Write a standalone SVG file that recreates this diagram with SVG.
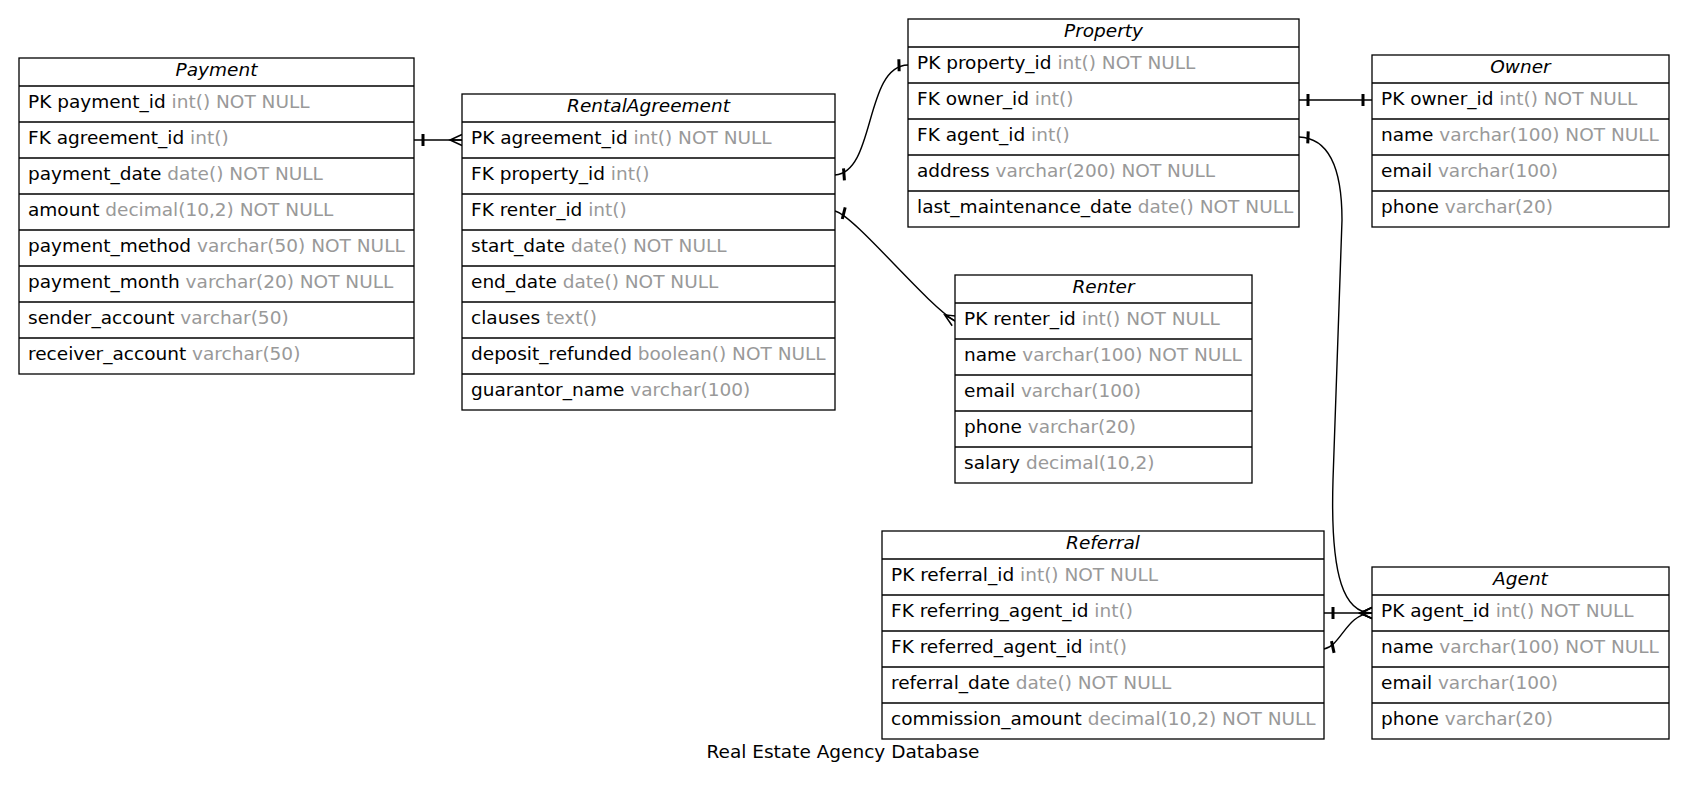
<svg xmlns="http://www.w3.org/2000/svg" width="1688" height="789" viewBox="0 0 1688 789">
  <style>
    text { font-family: "DejaVu Sans", "Liberation Sans", sans-serif; font-size: 18.5px; fill: #000; }
    .hdr { font-style: italic; text-anchor: middle; }
    .t { fill: #999999; }
    .box { fill: #fff; stroke: #000; stroke-width: 1.3; }
    .sep { stroke: #000; stroke-width: 1.3; }
    .edge { fill: none; stroke: #000; stroke-width: 1.4; }
  </style>
  <defs>
    <!-- one-side bar, sits ~9px away from the table edge -->
    <marker id="tee" markerUnits="userSpaceOnUse" orient="auto-start-reverse" markerWidth="1" markerHeight="1" overflow="visible">
      <rect x="-10.5" y="-6" width="3" height="12" fill="#000"/>
    </marker>
    <!-- many-side crow's foot, prongs touching the table edge -->
    <marker id="crow" markerUnits="userSpaceOnUse" orient="auto" markerWidth="1" markerHeight="1" overflow="visible">
      <path d="M0,-5.5 L-12,0 L0,5.5 M-12,0 L0,0" fill="none" stroke="#000" stroke-width="1.5"/>
    </marker>
  </defs>
  <rect width="1688" height="789" fill="#fff"/>

  <g id="connectors">
    <path class="edge" d="M414,140 L462,140" marker-start="url(#tee)" marker-end="url(#crow)"/>
    <path class="edge" d="M835,175 C876,172 864,66 908,65" marker-start="url(#tee)" marker-end="url(#tee)"/>
    <path class="edge" d="M835,211 C855,216 925,303 955,321" marker-start="url(#tee)" marker-end="url(#crow)"/>
    <path class="edge" d="M1299,100 L1372,100" marker-start="url(#tee)" marker-end="url(#tee)"/>
    <path class="edge" d="M1299,137 C1325,138 1342,160 1342,220 L1333,480 C1330,580 1345,613 1372,613" marker-start="url(#tee)" marker-end="url(#crow)"/>
    <path class="edge" d="M1324,613 L1372,613" marker-start="url(#tee)" marker-end="url(#crow)"/>
    <path class="edge" d="M1324,649 C1342,645 1346,614 1372,613" marker-start="url(#tee)" marker-end="url(#crow)"/>
  </g>

  <g id="Payment">
    <rect class="box" x="19" y="58" width="395" height="316"/>
    <path class="sep" d="M19,86 H414 M19,122 H414 M19,158 H414 M19,194 H414 M19,230 H414 M19,266 H414 M19,302 H414 M19,338 H414"/>
    <text class="hdr" x="216.5" y="75.5">Payment</text>
    <text x="28" y="107.5">PK payment_id<tspan class="t"> int() NOT NULL</tspan></text>
    <text x="28" y="143.5">FK agreement_id<tspan class="t"> int()</tspan></text>
    <text x="28" y="179.5">payment_date<tspan class="t"> date() NOT NULL</tspan></text>
    <text x="28" y="215.5">amount<tspan class="t"> decimal(10,2) NOT NULL</tspan></text>
    <text x="28" y="251.5">payment_method<tspan class="t"> varchar(50) NOT NULL</tspan></text>
    <text x="28" y="287.5">payment_month<tspan class="t"> varchar(20) NOT NULL</tspan></text>
    <text x="28" y="323.5">sender_account<tspan class="t"> varchar(50)</tspan></text>
    <text x="28" y="359.5">receiver_account<tspan class="t"> varchar(50)</tspan></text>
  </g>

  <g id="RentalAgreement">
    <rect class="box" x="462" y="94" width="373" height="316"/>
    <path class="sep" d="M462,122 H835 M462,158 H835 M462,194 H835 M462,230 H835 M462,266 H835 M462,302 H835 M462,338 H835 M462,374 H835"/>
    <text class="hdr" x="648.5" y="111.5">RentalAgreement</text>
    <text x="471" y="143.5">PK agreement_id<tspan class="t"> int() NOT NULL</tspan></text>
    <text x="471" y="179.5">FK property_id<tspan class="t"> int()</tspan></text>
    <text x="471" y="215.5">FK renter_id<tspan class="t"> int()</tspan></text>
    <text x="471" y="251.5">start_date<tspan class="t"> date() NOT NULL</tspan></text>
    <text x="471" y="287.5">end_date<tspan class="t"> date() NOT NULL</tspan></text>
    <text x="471" y="323.5">clauses<tspan class="t"> text()</tspan></text>
    <text x="471" y="359.5">deposit_refunded<tspan class="t"> boolean() NOT NULL</tspan></text>
    <text x="471" y="395.5">guarantor_name<tspan class="t"> varchar(100)</tspan></text>
  </g>

  <g id="Property">
    <rect class="box" x="908" y="19" width="391" height="208"/>
    <path class="sep" d="M908,47 H1299 M908,83 H1299 M908,119 H1299 M908,155 H1299 M908,191 H1299"/>
    <text class="hdr" x="1103.5" y="36.5">Property</text>
    <text x="917" y="68.5">PK property_id<tspan class="t"> int() NOT NULL</tspan></text>
    <text x="917" y="104.5">FK owner_id<tspan class="t"> int()</tspan></text>
    <text x="917" y="140.5">FK agent_id<tspan class="t"> int()</tspan></text>
    <text x="917" y="176.5">address<tspan class="t"> varchar(200) NOT NULL</tspan></text>
    <text x="917" y="212.5">last_maintenance_date<tspan class="t"> date() NOT NULL</tspan></text>
  </g>

  <g id="Owner">
    <rect class="box" x="1372" y="55" width="297" height="172"/>
    <path class="sep" d="M1372,83 H1669 M1372,119 H1669 M1372,155 H1669 M1372,191 H1669"/>
    <text class="hdr" x="1520.5" y="72.5">Owner</text>
    <text x="1381" y="104.5">PK owner_id<tspan class="t"> int() NOT NULL</tspan></text>
    <text x="1381" y="140.5">name<tspan class="t"> varchar(100) NOT NULL</tspan></text>
    <text x="1381" y="176.5">email<tspan class="t"> varchar(100)</tspan></text>
    <text x="1381" y="212.5">phone<tspan class="t"> varchar(20)</tspan></text>
  </g>

  <g id="Renter">
    <rect class="box" x="955" y="275" width="297" height="208"/>
    <path class="sep" d="M955,303 H1252 M955,339 H1252 M955,375 H1252 M955,411 H1252 M955,447 H1252"/>
    <text class="hdr" x="1103.5" y="292.5">Renter</text>
    <text x="964" y="324.5">PK renter_id<tspan class="t"> int() NOT NULL</tspan></text>
    <text x="964" y="360.5">name<tspan class="t"> varchar(100) NOT NULL</tspan></text>
    <text x="964" y="396.5">email<tspan class="t"> varchar(100)</tspan></text>
    <text x="964" y="432.5">phone<tspan class="t"> varchar(20)</tspan></text>
    <text x="964" y="468.5">salary<tspan class="t"> decimal(10,2)</tspan></text>
  </g>

  <g id="Referral">
    <rect class="box" x="882" y="531" width="442" height="208"/>
    <path class="sep" d="M882,559 H1324 M882,595 H1324 M882,631 H1324 M882,667 H1324 M882,703 H1324"/>
    <text class="hdr" x="1103" y="548.5">Referral</text>
    <text x="891" y="580.5">PK referral_id<tspan class="t"> int() NOT NULL</tspan></text>
    <text x="891" y="616.5">FK referring_agent_id<tspan class="t"> int()</tspan></text>
    <text x="891" y="652.5">FK referred_agent_id<tspan class="t"> int()</tspan></text>
    <text x="891" y="688.5">referral_date<tspan class="t"> date() NOT NULL</tspan></text>
    <text x="891" y="724.5">commission_amount<tspan class="t"> decimal(10,2) NOT NULL</tspan></text>
  </g>

  <g id="Agent">
    <rect class="box" x="1372" y="567" width="297" height="172"/>
    <path class="sep" d="M1372,595 H1669 M1372,631 H1669 M1372,667 H1669 M1372,703 H1669"/>
    <text class="hdr" x="1520.5" y="584.5">Agent</text>
    <text x="1381" y="616.5">PK agent_id<tspan class="t"> int() NOT NULL</tspan></text>
    <text x="1381" y="652.5">name<tspan class="t"> varchar(100) NOT NULL</tspan></text>
    <text x="1381" y="688.5">email<tspan class="t"> varchar(100)</tspan></text>
    <text x="1381" y="724.5">phone<tspan class="t"> varchar(20)</tspan></text>
  </g>

  <g id="title">
    <text x="843" y="758" text-anchor="middle">Real Estate Agency Database</text>
  </g>
</svg>
